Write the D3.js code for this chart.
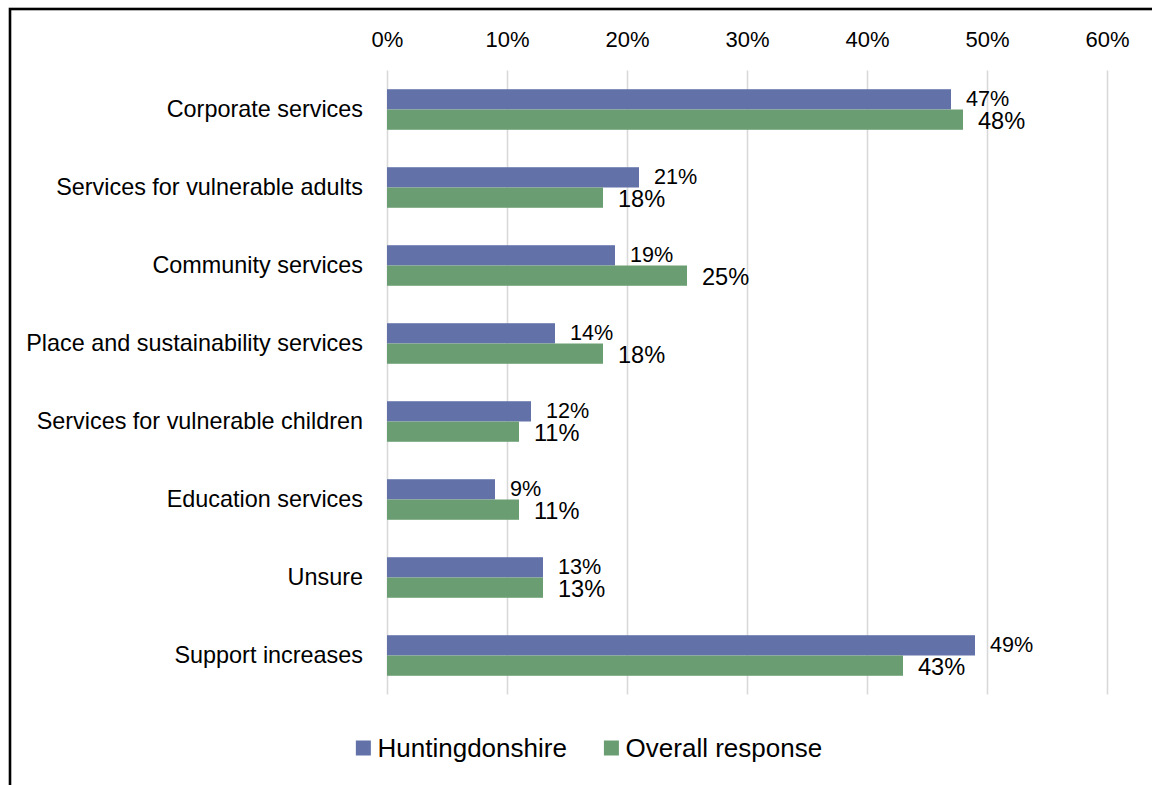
<!DOCTYPE html>
<html>
<head>
<meta charset="utf-8">
<script src="https://cdn.jsdelivr.net/npm/d3@7"></script>
<style>
  html, body { margin: 0; padding: 0; background: #ffffff; }
  svg { display: block; font-family: "Liberation Sans", Arial, sans-serif; }
</style>
</head>
<body>
<svg id="chart" width="1152" height="785"></svg>
<script>
// Share of respondents choosing each area, by group
const categories = [
  "Corporate services",
  "Services for vulnerable adults",
  "Community services",
  "Place and sustainability services",
  "Services for vulnerable children",
  "Education services",
  "Unsure",
  "Support increases"
];
const huntingdonshire = [47, 21, 19, 14, 12, 9, 13, 49];
const overallResponse = [48, 18, 25, 18, 11, 11, 13, 43];
const seriesNames = ["Huntingdonshire", "Overall response"];
const seriesColors = ["#6272A9", "#6A9E72"];
const tickValues = [0, 10, 20, 30, 40, 50, 60];

const seriesValues = [huntingdonshire, overallResponse];
const rows = categories.map((c, i) => ({
  category: c,
  values: seriesNames.map((s, k) => ({ series: s, value: seriesValues[k][i] }))
}));

const svg = d3.select("#chart");
const W = 1152, H = 785;
const plot = { left: 387, right: 1107, top: 70.5, bottom: 694.5 };

// Outer frame (runs past the right and bottom edges)
svg.append("rect")
  .attr("x", 10).attr("y", 9)
  .attr("width", W + 20).attr("height", H + 20)
  .attr("fill", "none")
  .attr("stroke", "#000")
  .attr("stroke-width", 2.6);

const x = d3.scaleLinear()
  .domain([0, 60])
  .range([plot.left, plot.right]);

const y = d3.scaleBand()
  .domain(categories)
  .range([plot.top, plot.bottom])
  .paddingInner(0.48)
  .paddingOuter(0.24);

const ySeries = d3.scaleBand()
  .domain(seriesNames)
  .range([0, y.bandwidth()]);

const color = d3.scaleOrdinal().domain(seriesNames).range(seriesColors);

// Value axis on top with gridlines running down the plot
const xAxis = d3.axisTop(x)
  .tickValues(tickValues)
  .tickFormat(d => d + "%")
  .tickSize(-(plot.bottom - plot.top))
  .tickPadding(24);

const gx = svg.append("g")
  .attr("transform", `translate(0,${plot.top})`)
  .call(xAxis);
gx.select(".domain").remove();
gx.selectAll(".tick line")
  .attr("stroke", "#d9d9d9")
  .attr("stroke-width", 1.6);
gx.selectAll(".tick text")
  .attr("fill", "#000")
  .style("font-size", "22px")
  .style("font-family", "\"Liberation Sans\", Arial, sans-serif");

// Category axis
const yAxis = d3.axisLeft(y).tickSize(0).tickPadding(24);
const gy = svg.append("g")
  .attr("transform", `translate(${plot.left},0)`)
  .call(yAxis);
gy.select(".domain").remove();
gy.selectAll(".tick text")
  .attr("fill", "#000")
  .attr("dy", "0.33em")
  .style("font-size", "23.4px")
  .style("font-family", "\"Liberation Sans\", Arial, sans-serif");

// Bars
const groups = svg.append("g")
  .selectAll("g")
  .data(rows)
  .join("g")
  .attr("transform", d => `translate(0,${y(d.category)})`);

groups.selectAll("rect")
  .data(d => d.values)
  .join("rect")
  .attr("x", x(0))
  .attr("y", d => ySeries(d.series))
  .attr("width", d => x(d.value) - x(0))
  .attr("height", ySeries.bandwidth())
  .attr("fill", d => color(d.series));

// Value labels
const labelSize = { "Huntingdonshire": 21.6, "Overall response": 23.6 };
const labelShift = { "Huntingdonshire": -0.8, "Overall response": 0.8 };
groups.selectAll("text")
  .data(d => d.values)
  .join("text")
  .attr("x", d => x(d.value) + 15)
  .attr("y", d => ySeries(d.series) + ySeries.bandwidth() / 2 + labelShift[d.series])
  .attr("dy", "0.36em")
  .attr("fill", "#000")
  .style("font-size", d => labelSize[d.series] + "px")
  .text(d => d.value + "%");

// Legend, centred under the plot
const legend = svg.append("g").attr("transform", "translate(0,748)");
const items = legend.selectAll("g")
  .data(seriesNames)
  .join("g");
items.append("rect")
  .attr("x", 0).attr("y", -7.5)
  .attr("width", 15).attr("height", 15)
  .attr("fill", d => color(d));
items.append("text")
  .attr("x", 21.7)
  .attr("dy", "0.35em")
  .attr("fill", "#000")
  .style("font-size", "26px")
  .text(d => d);

const itemGap = 37;
let widths = [];
items.each(function () {
  widths.push(21.7 + d3.select(this).select("text").node().getComputedTextLength());
});
const total = d3.sum(widths) + itemGap * (widths.length - 1);
let cursor = 589 - total / 2;
items.attr("transform", (d, i) => {
  const t = `translate(${cursor},0)`;
  cursor += widths[i] + itemGap;
  return t;
});
</script>
</body>
</html>
